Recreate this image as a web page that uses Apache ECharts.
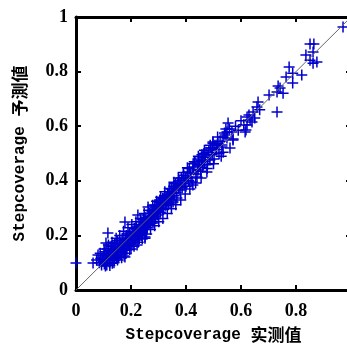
<!DOCTYPE html>
<html>
<head>
<meta charset="utf-8">
<script src="https://cdn.jsdelivr.net/npm/echarts@6/dist/echarts.min.js"></script>
<style>html,body{margin:0;padding:0;background:#fff;}#c{width:347px;height:344px;}</style>
</head>
<body>
<div id="c"></div>
<script>
// measured (実測値) and predicted (予測値) Stepcoverage values
const measured = [
0.000,0.062,0.075,0.080,0.085,0.090,0.095,0.098,0.100,0.103,0.105,0.108,0.109,0.110,0.112,0.113,0.115,0.116,0.118,0.120,
0.122,0.124,0.125,0.127,0.128,0.130,0.132,0.134,0.135,0.137,0.139,0.140,0.142,0.144,0.145,0.147,0.149,0.150,0.152,0.153,
0.155,0.157,0.158,0.160,0.162,0.163,0.165,0.167,0.168,0.170,0.172,0.174,0.175,0.177,0.178,0.178,0.180,0.182,0.183,0.185,
0.187,0.188,0.190,0.192,0.194,0.196,0.197,0.199,0.200,0.202,0.204,0.205,0.207,0.209,0.210,0.212,0.214,0.215,0.217,0.219,
0.220,0.222,0.223,0.225,0.225,0.227,0.229,0.230,0.232,0.233,0.235,0.237,0.238,0.240,0.242,0.244,0.245,0.247,0.249,0.251,
0.251,0.252,0.254,0.256,0.258,0.259,0.261,0.262,0.263,0.265,0.267,0.268,0.270,0.272,0.273,0.275,0.276,0.278,0.280,0.282,
0.284,0.285,0.287,0.288,0.290,0.292,0.294,0.295,0.295,0.297,0.299,0.300,0.302,0.304,0.305,0.307,0.309,0.310,0.312,0.313,
0.315,0.317,0.318,0.320,0.322,0.324,0.325,0.327,0.329,0.331,0.333,0.335,0.336,0.338,0.340,0.342,0.344,0.346,0.348,0.350,
0.353,0.353,0.355,0.357,0.360,0.362,0.364,0.367,0.368,0.371,0.373,0.375,0.378,0.380,0.383,0.386,0.389,0.392,0.395,0.398,
0.400,0.404,0.407,0.410,0.412,0.415,0.418,0.422,0.425,0.425,0.428,0.430,0.433,0.436,0.440,0.442,0.444,0.447,0.450,0.453,
0.456,0.458,0.458,0.460,0.462,0.465,0.468,0.470,0.473,0.476,0.478,0.480,0.483,0.487,0.490,0.495,0.495,0.495,0.498,0.498,
0.502,0.505,0.510,0.513,0.516,0.520,0.524,0.531,0.531,0.535,0.535,0.540,0.542,0.549,0.549,0.553,0.558,0.567,0.571,0.571,
0.580,0.590,0.600,0.610,0.615,0.618,0.622,0.622,0.629,0.633,0.640,0.644,0.650,0.658,0.662,0.668,0.702,0.731,0.731,0.735,
0.742,0.753,0.764,0.775,0.788,0.788,0.821,0.836,0.851,0.851,0.862,0.862,0.865,0.876,0.971,
0.088,0.093,0.102,0.107,0.118,0.123,0.131,0.138,0.146,0.151,0.159,0.166,0.173,0.181,0.189,0.195,0.203,0.211,0.218,0.226,
0.234,0.241,0.248,0.257,0.264,0.271,0.279,0.286,0.293,0.301,0.308,0.316,0.323,0.332,0.339,0.347,0.356,0.363,0.372,0.381,
0.390,0.397,0.405,0.414,0.426,0.435,0.445,0.455,0.467,0.477,0.488,0.500,0.515,0.528,0.545,0.560
];
const predicted = [
0.099,0.099,0.110,0.128,0.100,0.115,0.117,0.105,0.125,0.095,0.140,0.112,0.172,0.128,0.092,0.150,0.108,0.209,0.135,0.118,
0.100,0.145,0.128,0.112,0.160,0.138,0.098,0.120,0.150,0.132,0.108,0.170,0.142,0.125,0.155,0.115,0.138,0.180,0.148,0.136,
0.120,0.160,0.183,0.145,0.130,0.168,0.152,0.140,0.190,0.160,0.147,0.175,0.125,0.165,0.249,0.121,0.185,0.158,0.200,0.147,
0.172,0.190,0.163,0.180,0.205,0.209,0.170,0.192,0.150,0.185,0.172,0.200,0.215,0.190,0.175,0.225,0.205,0.183,0.198,0.230,
0.212,0.165,0.195,0.275,0.220,0.205,0.240,0.188,0.215,0.220,0.232,0.200,0.250,0.225,0.210,0.238,0.258,0.222,0.245,0.194,
0.190,0.232,0.265,0.248,0.245,0.228,0.255,0.304,0.270,0.240,0.262,0.280,0.250,0.268,0.290,0.260,0.267,0.282,0.245,0.275,
0.295,0.268,0.311,0.280,0.262,0.290,0.305,0.293,0.300,0.275,0.312,0.288,0.320,0.298,0.330,0.285,0.310,0.322,0.300,0.304,
0.335,0.315,0.295,0.328,0.345,0.330,0.310,0.320,0.340,0.322,0.352,0.348,0.315,0.335,0.360,0.319,0.345,0.370,0.330,0.355,
0.355,0.322,0.380,0.345,0.374,0.390,0.358,0.337,0.385,0.392,0.370,0.400,0.366,0.385,0.410,0.375,0.403,0.420,0.390,0.410,
0.380,0.414,0.432,0.400,0.445,0.429,0.410,0.396,0.451,0.385,0.440,0.470,0.469,0.425,0.414,0.455,0.440,0.480,0.460,0.435,
0.475,0.487,0.495,0.450,0.458,0.500,0.470,0.485,0.505,0.432,0.460,0.495,0.512,0.476,0.520,0.505,0.520,0.495,0.538,0.542,
0.480,0.530,0.515,0.531,0.538,0.500,0.545,0.524,0.531,0.505,0.560,0.575,0.568,0.557,0.579,0.612,0.590,0.579,0.549,0.553,
0.600,0.585,0.620,0.605,0.579,0.586,0.604,0.634,0.641,0.623,0.615,0.652,0.630,0.670,0.689,0.660,0.714,0.725,0.652,0.747,
0.740,0.721,0.780,0.817,0.794,0.758,0.788,0.861,0.901,0.842,0.872,0.831,0.901,0.835,0.963,
0.135,0.092,0.150,0.088,0.165,0.090,0.175,0.100,0.190,0.110,0.200,0.118,0.215,0.135,0.228,0.148,0.240,0.160,0.250,0.175,
0.262,0.188,0.280,0.205,0.292,0.222,0.310,0.235,0.325,0.250,0.340,0.262,0.360,0.280,0.372,0.298,0.395,0.312,0.410,0.330,
0.430,0.352,0.448,0.370,0.462,0.392,0.490,0.410,0.512,0.445,0.530,0.462,0.560,0.490,0.590,0.520
];
const ticks = [0, 0.2, 0.4, 0.6, 0.8, 1];
const refLine = [[0, 0], [1, 1]];

const pts = measured.map((m, i) => [m, predicted[i]]);
const chart = echarts.init(document.getElementById('c'), null, {renderer: 'canvas'});
const labelFmt = v => (ticks.indexOf(+v.toFixed(1)) >= 0 ? String(+v.toFixed(1)) : '');
const tickLabel = {color: '#000', fontFamily: 'Liberation Serif', fontWeight: 'bold', fontSize: 18, formatter: labelFmt};
const axLine = {show: true, onZero: false, lineStyle: {color: '#000', width: 3}};
const axTick = {show: true, inside: true, length: 5, lineStyle: {color: '#000', width: 2}};
const titleRich = {
  a: {fontFamily: 'Liberation Mono', fontWeight: 'bold', fontSize: 16, color: '#000'},
  b: {fontFamily: 'Noto Sans CJK SC', fontWeight: 'bold', fontSize: 17, color: '#000'}
};
chart.setOption({
  animation: false,
  grid: {left: 76, top: 17, width: 275, height: 273, containLabel: false, outerBoundsMode: 'none'},
  xAxis: [
    {type: 'value', position: 'bottom', min: 0, max: 1, interval: 0.2,
     axisLine: axLine, axisTick: axTick, splitLine: {show: false},
     axisLabel: Object.assign({margin: 12}, tickLabel),
     name: '{a|Stepcoverage }{b|实测值}', nameLocation: 'middle', nameGap: 36,
     nameTextStyle: {rich: titleRich}},
    {type: 'value', position: 'top', min: 0, max: 1, interval: 0.2,
     axisLine: axLine, axisTick: axTick, splitLine: {show: false}, axisLabel: {show: false}}
  ],
  yAxis: [
    {type: 'value', position: 'left', min: 0, max: 1, interval: 0.2,
     axisLine: axLine, axisTick: axTick, splitLine: {show: false},
     axisLabel: Object.assign({margin: 8}, tickLabel),
     name: '{a|Stepcoverage }{b|予測値}', nameLocation: 'middle', nameGap: 48,
     nameTextStyle: {rich: titleRich}},
    {type: 'value', position: 'right', min: 0, max: 1, interval: 0.2,
     axisLine: axLine, axisTick: axTick, splitLine: {show: false}, axisLabel: {show: false}}
  ],
  series: [
    {type: 'scatter', data: pts, symbol: 'path://M0,5L10,5M5,0L5,10', symbolSize: 11,
     itemStyle: {color: 'rgba(0,0,0,0)', borderColor: '#0000cd', borderWidth: 1.5, opacity: 1},
     emphasis: {disabled: true}, z: 2},
    {type: 'line', data: refLine, symbol: 'none', silent: true,
     lineStyle: {color: '#666', width: 1}, z: 3}
  ]
});
</script>
</body>
</html>
